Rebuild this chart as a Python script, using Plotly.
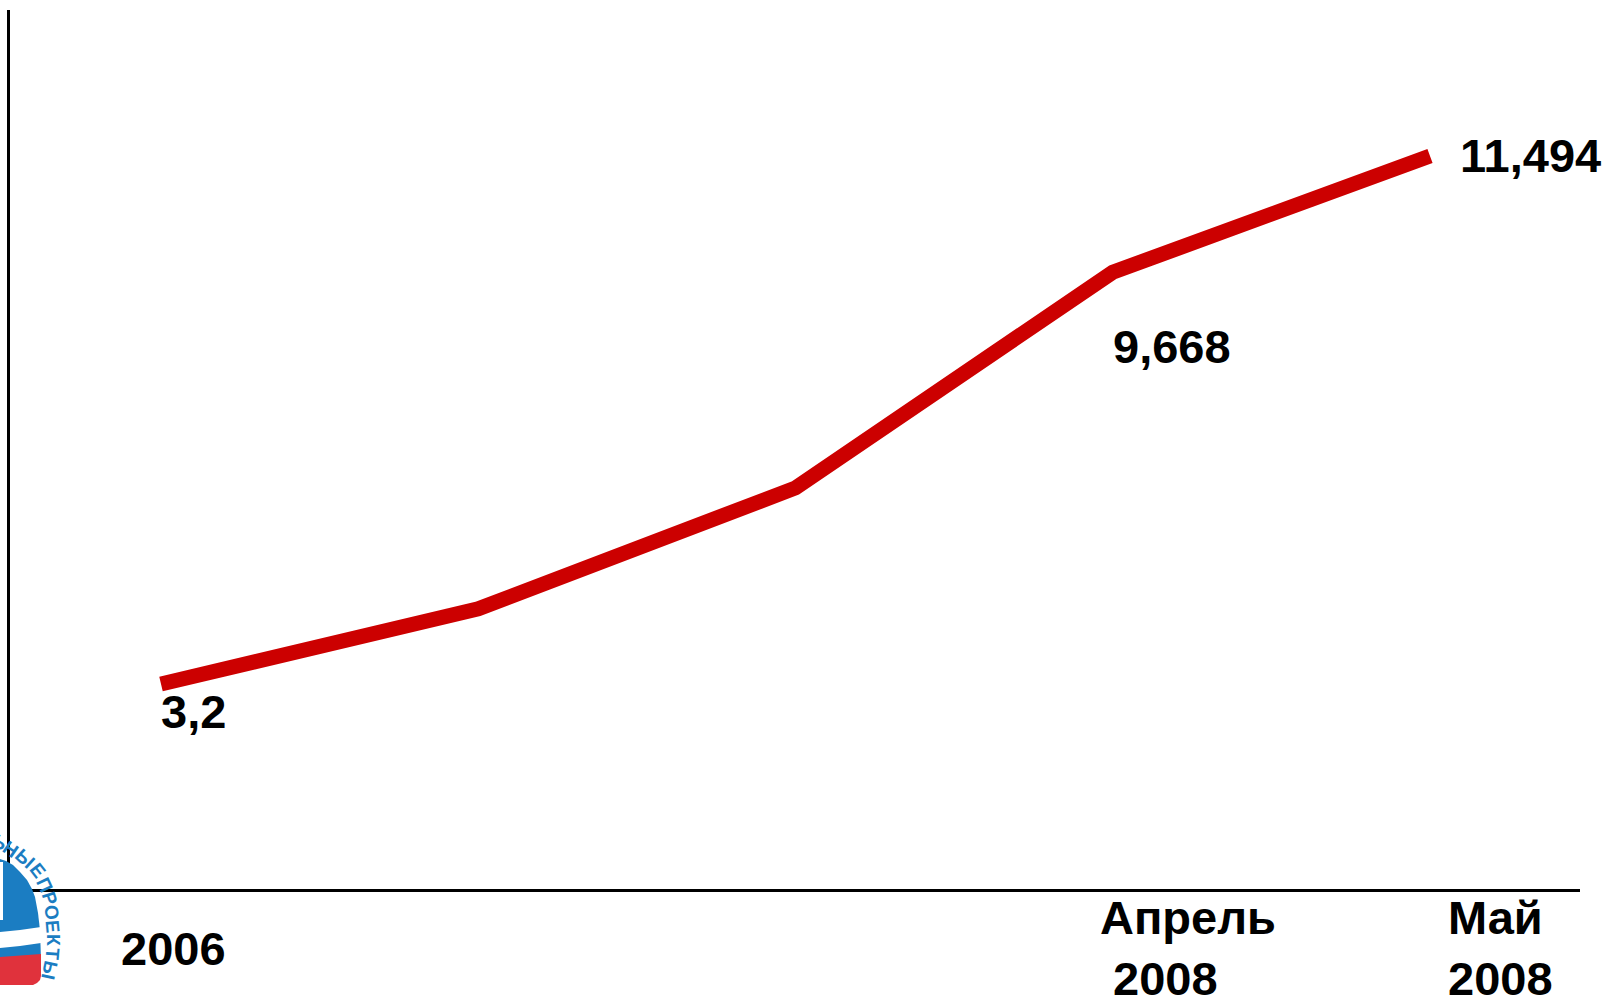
import plotly.graph_objects as go

# ---- data ----
categories = ["2006", "", "", "Апрель<br>\u00a02008", "Май<br>2008"]
values = [3.2, 4.38, 6.28, 9.668, 11.494]
value_labels = ["3,2", "", "", "9,668", "11,494"]

W, H = 1606, 997
L, R, T, B = 10, 26, 10, 108
PW, PH = W - L - R, H - T - B

def P(px, py):
    """pixel -> paper coords"""
    return (px - L) / PW, (H - B - py) / PH

xs = list(range(len(values)))

fig = go.Figure()
fig.add_trace(go.Scatter(
    x=xs, y=values, mode="lines",
    line=dict(color="#CC0000", width=15),
    hoverinfo="skip", showlegend=False,
))

FONT = dict(family="Liberation Sans, Arial, sans-serif", size=47, color="#000000", weight="bold")

# value labels (offsets in px relative to the vertex)
lab_offsets = {0: (-2, -28), 3: (-2, -74), 4: (28, 0)}
for i, t in enumerate(value_labels):
    if not t:
        continue
    dx, dy = lab_offsets[i]
    fig.add_annotation(x=xs[i], y=values[i], xref="x", yref="y", text=t,
                       showarrow=False, xanchor="left", yanchor="middle",
                       xshift=dx, yshift=dy, font=FONT)

# category labels below the axis
cat_offsets = {0: -42, 3: -15, 4: 16}
for i, t in enumerate(categories):
    if not t:
        continue
    fig.add_annotation(x=xs[i], y=P(0, 948)[1], xref="x", yref="paper", text=t,
                       showarrow=False, xanchor="left", yanchor="middle", align="left",
                       xshift=cat_offsets[i], font=FONT)

# ---- logo (decorative approximation) ----
BLUE = "#1B7DC2"
RED = "#E0323C"

def path(points, close=True):
    s = ""
    for k, (px, py) in enumerate(points):
        x, y = P(px, py)
        s += ("M" if k == 0 else "L") + f"{x:.5f},{y:.5f} "
    return s + ("Z" if close else "")

dome = [(0, 859), (6, 861), (13, 865), (20, 872), (27, 880), (32, 889), (35, 897),
        (38, 913), (40, 930), (41, 960), (0, 960)]
fig.add_shape(type="path", path=path(dome), xref="paper", yref="paper",
              fillcolor=BLUE, line=dict(width=0), layer="above")
white = [(0, 932), (20, 930), (41, 927), (41, 943), (20, 946), (0, 948)]
fig.add_shape(type="path", path=path(white), xref="paper", yref="paper",
              fillcolor="#FFFFFF", line=dict(width=0), layer="above")
red = [(0, 957), (41, 954), (41, 976), (40, 980), (37, 983), (33, 985), (0, 985)]
fig.add_shape(type="path", path=path(red), xref="paper", yref="paper",
              fillcolor=RED, line=dict(width=0), layer="above")
fig.add_shape(type="rect", xref="paper", yref="paper",
              x0=P(0, 0)[0], x1=P(3, 0)[0], y0=P(0, 920)[1], y1=P(0, 862)[1],
              fillcolor="#FFFFFF", line=dict(width=0), layer="above")

arc_letters = [("Ь", 0, 842, 30), ("Н", 11, 849, 35), ("Ы", 25, 858, 42), ("Е", 38, 870, 52),
               ("П", 45, 885, 65), ("Р", 49, 898, 72), ("О", 52, 912, 80),
               ("Е", 53, 926, 85), ("К", 54, 940, 90), ("Т", 53, 954, 95),
               ("Ы", 50, 970, 102)]
for ch, px, py, ang in arc_letters:
    x, y = P(px, py)
    fig.add_annotation(x=x, y=y, xref="paper", yref="paper", text=ch, showarrow=False,
                       textangle=ang, xanchor="center", yanchor="middle",
                       font=dict(family="Liberation Sans, Arial", size=19, color=BLUE, weight="bold"))

x_lo = -(161 - L) / 317.25
x_hi = 4 + (W - R - 1430) / 317.25
y_per = 63.66
y_zero = 887.7
y_lo = -((H - B) - y_zero) / y_per
y_hi = (y_zero - T) / y_per

fig.update_layout(
    width=W, height=H,
    margin=dict(l=L, r=R, t=T, b=B),
    paper_bgcolor="white", plot_bgcolor="white",
    xaxis=dict(range=[x_lo, x_hi], showgrid=False, zeroline=False, showticklabels=False,
               ticks="", showline=True, linecolor="black", linewidth=3, fixedrange=True),
    yaxis=dict(range=[y_lo, y_hi], showgrid=False, zeroline=False, showticklabels=False,
               ticks="", showline=True, linecolor="black", linewidth=2.5, fixedrange=True),
    showlegend=False,
)

fig.write_html("out.html", config={"displayModeBar": False},
               post_script="document.body.style.margin='0';document.body.style.overflow='hidden';")
